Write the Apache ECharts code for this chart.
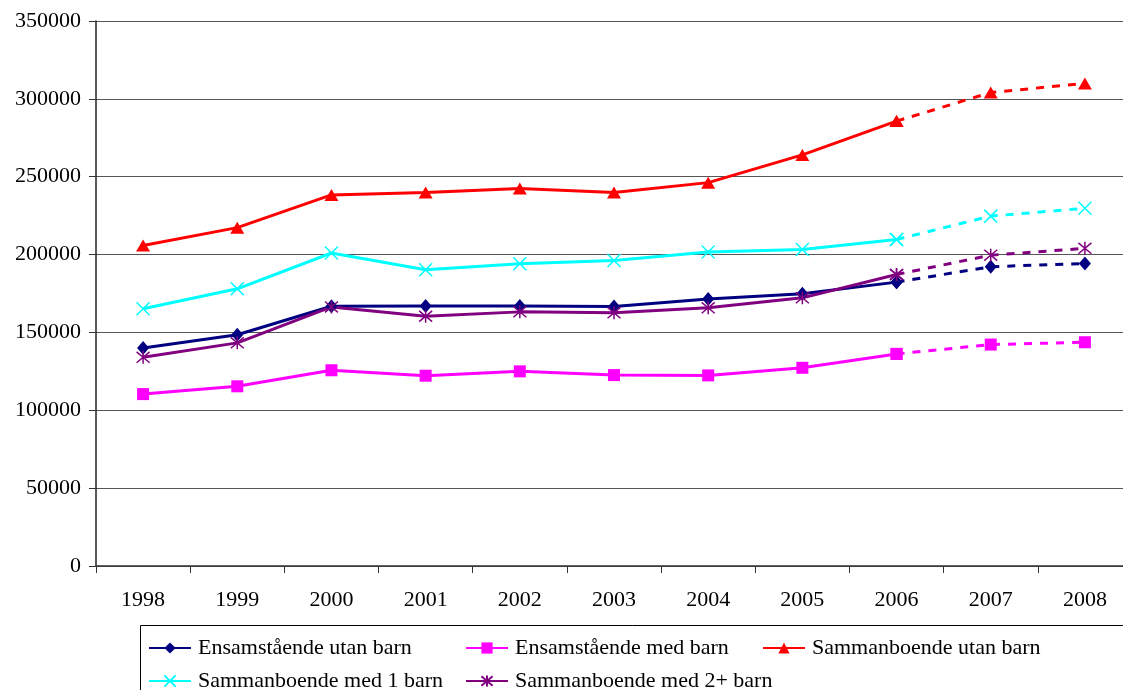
<!DOCTYPE html>
<html>
<head>
<meta charset="utf-8">
<script src="https://cdn.jsdelivr.net/npm/echarts@6/dist/echarts.min.js"></script>
<style>
  html, body { margin: 0; padding: 0; background: #fff; }
  #chart { width: 1123px; height: 690px; }
</style>
</head>
<body>
<div id="chart"></div>
<script>
// år
var years = ['1998', '1999', '2000', '2001', '2002', '2003', '2004', '2005', '2006', '2007', '2008'];
// första året som är prognos (streckad linje från 2006)
var projFrom = 8;

var ensamUtanBarn = [140000, 148500, 166800, 167000, 166900, 166700, 171500, 174800, 182300, 192200, 194300];
var ensamMedBarn = [110400, 115400, 125700, 122200, 125000, 122600, 122400, 127300, 136200, 142200, 143700];
var sambUtanBarn = [205800, 217300, 238300, 239800, 242400, 239800, 246200, 264000, 285700, 304100, 309900];
var sambMed1Barn = [165200, 178000, 201000, 190300, 194100, 196200, 201700, 203300, 209700, 224700, 229700];
var sambMed2Barn = [134000, 143300, 166400, 160400, 163200, 162600, 165800, 172200, 187200, 199600, 204000];

var yTicks = [0, 50000, 100000, 150000, 200000, 250000, 300000, 350000];

var FONT = 'Liberation Serif';
var xPath = 'path://M0 0 L10 10 M10 0 L0 10';
var starPath = 'path://M0 0 L10 10 M10 0 L0 10 M5 -1 L5 11';

var lines = [
  { name: 'Ensamstående utan barn', data: ensamUtanBarn, color: '#000080', symbol: 'diamond', size: [12, 14], bw: 0 },
  { name: 'Ensamstående med barn', data: ensamMedBarn, color: '#FF00FF', symbol: 'rect', size: 12, bw: 0 },
  { name: 'Sammanboende utan barn', data: sambUtanBarn, color: '#FF0000', symbol: 'triangle', size: [14, 12], bw: 0 },
  { name: 'Sammanboende med 1 barn', data: sambMed1Barn, color: '#00FFFF', symbol: xPath, size: 13, bw: 1.5 },
  { name: 'Sammanboende med 2+ barn', data: sambMed2Barn, color: '#800080', symbol: starPath, size: 13, bw: 1.5 }
];

// dela upp i heldragen del och streckad prognosdel
var series = [];
lines.forEach(function (l) {
  var solid = l.data.map(function (v, i) { return i <= projFrom ? v : '-'; });
  var dashed = l.data.map(function (v, i) { return i >= projFrom ? v : '-'; });
  var base = {
    name: l.name,
    type: 'line',
    symbol: l.symbol,
    symbolSize: l.size,
    itemStyle: { color: l.color, borderColor: l.color, borderWidth: l.bw },
    emphasis: { disabled: true }
  };
  series.push(Object.assign({}, base, {
    data: solid,
    lineStyle: { color: l.color, width: 3 }
  }));
  series.push(Object.assign({}, base, {
    data: dashed,
    lineStyle: { color: l.color, width: 3, type: [8, 8] }
  }));
});

// en legend per post så att kolumnerna hamnar som i originalet
var legendPos = [[148, 637], [465, 637], [762, 637], [148, 670], [465, 670]];
var legends = lines.map(function (l, i) {
  return {
    data: [l.name],
    left: legendPos[i][0],
    top: legendPos[i][1],
    padding: 0,
    itemWidth: 42,
    itemHeight: 14,
    itemGap: 0,
    selectedMode: false,
    textStyle: { fontFamily: FONT, fontSize: 22, color: '#000', lineHeight: 22, padding: [0, 0, 0, 2] }
  };
});

var myChart = echarts.init(document.getElementById('chart'));
myChart.setOption({
  animation: false,
  backgroundColor: '#fff',
  grid: { left: 96, top: 21, width: 1036, height: 545, containLabel: false, outerBoundsMode: 'none' },
  legend: legends,
  graphic: [{
    type: 'rect',
    shape: { x: 140.5, y: 625.5, width: 1000, height: 100 },
    style: { fill: 'none', stroke: '#000', lineWidth: 1 },
    z: -1
  }],
  xAxis: {
    type: 'category',
    data: years,
    boundaryGap: true,
    axisLine: { lineStyle: { color: '#333', width: 1.5 } },
    axisTick: { show: true, interval: 0, length: 7, lineStyle: { color: '#333' } },
    axisLabel: { interval: 0, margin: 23, fontFamily: FONT, fontSize: 22, color: '#000' },
    splitLine: { show: false }
  },
  yAxis: {
    type: 'value',
    min: yTicks[0],
    max: yTicks[yTicks.length - 1],
    interval: 50000,
    axisLine: { show: true, lineStyle: { color: '#222', width: 1.5 } },
    axisTick: { show: true, length: 7, lineStyle: { color: '#333' } },
    axisLabel: {
      margin: 15, fontFamily: FONT, fontSize: 22, color: '#000',
      formatter: function (v) { return String(v); }
    },
    splitLine: { show: true, lineStyle: { color: '#555', width: 1 } }
  },
  series: series
});
</script>
</body>
</html>
